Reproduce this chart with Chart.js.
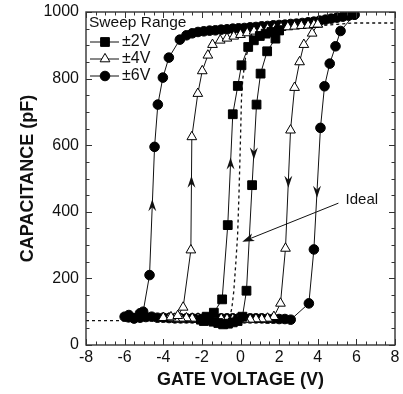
<!DOCTYPE html>
<html><head><meta charset="utf-8">
<script src="https://cdn.jsdelivr.net/npm/chart.js@4.4.1/dist/chart.umd.min.js"></script>
<style>html,body{margin:0;padding:0;background:#fff}#wrap{width:403px;height:394px}</style>
</head><body><div id="wrap"><canvas id="c" width="403" height="394"></canvas></div>
<script>
// ---------- data ----------
const xTicks = [-8, -6, -4, -2, 0, 2, 4, 6, 8];
const yTicks = [0, 200, 400, 600, 800, 1000];
const xTitle = 'GATE VOLTAGE (V)';
const yTitle = 'CAPACITANCE (pF)';
const legendTitle = 'Sweep Range';
const seriesNames = ['\u00B12V', '\u00B14V', '\u00B16V'];

// ±2V sweep (filled squares), loop order
const v2 = [2.0, 1.81, 1.38, 1.04, 0.83, 0.6, 0.31, 0.1, -0.15, -0.4, -0.65, -0.9, -1.15, -1.4, -1.65, -1.9, -2.05, -1.75, -1.38, -0.95, -0.66, -0.4, -0.14, 0.05, 0.4, 0.69, 1.0, 1.3, 1.6, 2.0];
const c2 = [945, 920, 882, 815, 722, 480, 163, 85, 72, 68, 64, 62, 66, 70, 75, 72, 76, 85, 97, 137, 360, 693, 778, 840, 895, 915, 928, 935, 940, 945];

// ±4V sweep (open triangles)
const v4 = [4.0, 3.71, 3.28, 3.06, 2.8, 2.59, 2.33, 2.07, 1.73, 1.4, 1.1, 0.8, 0.5, 0.2, -0.1, -0.4, -0.7, -1.0, -1.3, -1.6, -1.9, -2.2, -2.5, -2.8, -3.1, -3.4, -3.7, -4.0, -3.6, -3.25, -2.97, -2.57, -2.52, -2.21, -1.98, -1.69, -1.45, -1.05, -0.7, -0.35, 0.0, 0.35, 0.7, 1.05, 1.4, 1.75, 2.1, 2.45, 2.8, 3.15, 3.5, 3.8, 4.0];
const c4 = [963, 936, 902, 850, 773, 645, 290, 125, 85, 80, 78, 78, 77, 77, 78, 78, 78, 79, 79, 80, 80, 80, 80, 81, 80, 80, 81, 82, 84, 88, 113, 285, 625, 755, 823, 870, 902, 915, 921, 927, 932, 937, 942, 946, 949, 951, 953, 955, 957, 959, 960, 962, 963];

// ±6V sweep (filled circles)
const v6 = [5.9, 5.18, 4.92, 4.62, 4.35, 4.14, 3.8, 3.54, 2.6, 2.3, 2.0, 1.7, 1.4, 1.1, 0.8, 0.5, 0.2, -0.1, -0.4, -0.7, -1.0, -1.3, -1.6, -1.9, -2.2, -2.5, -2.8, -3.1, -3.4, -3.7, -4.0, -4.3, -4.6, -4.9, -5.2, -5.5, -5.8, -6.0, -5.78, -5.52, -5.21, -5.04, -4.71, -4.45, -4.28, -4.02, -3.71, -3.14, -2.8, -2.5, -2.2, -1.9, -1.6, -1.3, -1.0, -0.7, -0.4, -0.1, 0.2, 0.5, 0.8, 1.1, 1.4, 1.7, 2.0, 2.3, 2.6, 2.9, 3.2, 3.5, 3.8, 4.1, 4.4, 4.7, 5.0, 5.3, 5.6, 5.9];
const c6 = [992, 943, 897, 845, 777, 652, 287, 125, 76, 78, 78, 79, 79, 80, 80, 80, 80, 80, 80, 80, 80, 80, 80, 80, 80, 80, 80, 80, 80, 81, 82, 82, 85, 84, 82, 80, 83, 85, 90, 80, 95, 100, 210, 595, 722, 803, 863, 917, 930, 936, 940, 942, 944, 945, 947, 948, 950, 951, 952, 954, 955, 957, 958, 960, 961, 962, 964, 965, 967, 969, 971, 974, 977, 980, 983, 986, 989, 992];

// ideal C-V curve (dashed)
const idealV = [-8, -0.8, -0.55, -0.45, -0.35, -0.25, -0.15, -0.08, 0.0, 0.05, 0.12, 0.25, 0.5, 1.0, 2.0, 3.0, 4.0, 5.0, 5.8, 8];
const idealC = [73, 73, 85, 110, 160, 240, 330, 450, 620, 740, 800, 860, 905, 930, 945, 952, 958, 963, 967, 967];

// sweep-direction arrows: series index, voltage, capacitance, direction
const arrowSeries = [2, 2, 1, 1, 0, 0];
const arrowV = [-4.58, 3.94, -2.58, 2.37, -0.52, 0.69];
const arrowC = [420, 460, 490, 490, 545, 575];
const arrowDir = ['up', 'down', 'up', 'down', 'up', 'down'];

// "Ideal" annotation
const idealLabel = 'Ideal';
const idealLabelAt = [5.44, 435];
const idealArrowFrom = [5.07, 426];
const idealArrowTo = [0.09, 310];

// ---------- drawing ----------
const FAMILY = '"Liberation Sans", Arial, Helvetica, sans-serif';
const INK = '#111';
const zip = (a, b) => a.map((v, i) => ({x: v, y: b[i]}));

const styles = [
  {pointStyle: 'rect', radius: 6.2, fill: '#000'},
  {pointStyle: 'triangle', radius: 5.6, fill: '#fff'},
  {pointStyle: 'circle', radius: 4.8, fill: '#000'}
];

function arrowHead(ctx, x, y, ang, L, W, N) {
  ctx.save();
  ctx.translate(x, y);
  ctx.rotate(ang);
  ctx.beginPath();
  ctx.moveTo(0, 0);
  ctx.lineTo(-L, -W / 2);
  ctx.lineTo(-L + N, 0);
  ctx.lineTo(-L, W / 2);
  ctx.closePath();
  ctx.fillStyle = INK;
  ctx.fill();
  ctx.restore();
}

const framePlugin = {
  id: 'frame',
  afterDraw(chart) {
    const {ctx, chartArea: a, scales: {x, y}} = chart;
    ctx.save();
    ctx.strokeStyle = '#333';
    ctx.lineWidth = 1.4;
    ctx.strokeRect(a.left, a.top, a.right - a.left, a.bottom - a.top);
    ctx.lineWidth = 1;
    ctx.beginPath();
    for (let v = -8; v <= 8.001; v += 0.5) {
      const px = Math.round(x.getPixelForValue(v)) + 0.5;
      const len = Math.abs(v % 2) < 1e-6 ? 6 : 3.5;
      ctx.moveTo(px, a.bottom); ctx.lineTo(px, a.bottom - len);
      ctx.moveTo(px, a.top); ctx.lineTo(px, a.top + len);
    }
    for (let c = 0; c <= 1000.01; c += 50) {
      const py = Math.round(y.getPixelForValue(c)) + 0.5;
      const len = Math.abs(c % 200) < 1e-6 ? 6 : 3.5;
      ctx.moveTo(a.left, py); ctx.lineTo(a.left + len, py);
      ctx.moveTo(a.right, py); ctx.lineTo(a.right - len, py);
    }
    ctx.stroke();

    // sweep-direction arrows, placed on their curves
    arrowSeries.forEach((si, k) => {
      const meta = chart.getDatasetMeta(si + 1);
      const tx = x.getPixelForValue(arrowV[k]);
      const ty = y.getPixelForValue(arrowC[k]);
      let best = tx, bd = 1e9;
      const pts = meta.data;
      for (let i = 0; i < pts.length - 1; i++) {
        const p = pts[i], q = pts[i + 1];
        if ((p.y - ty) * (q.y - ty) <= 0 && p.y !== q.y) {
          const xi = p.x + (q.x - p.x) * (ty - p.y) / (q.y - p.y);
          if (Math.abs(xi - tx) < bd) { bd = Math.abs(xi - tx); best = xi; }
        }
      }
      const up = arrowDir[k] === 'up';
      arrowHead(ctx, best, up ? ty - 6 : ty + 6, up ? -Math.PI / 2 : Math.PI / 2, 12, 8, 4);
    });

    // Ideal annotation
    const fx = x.getPixelForValue(idealArrowFrom[0]), fy = y.getPixelForValue(idealArrowFrom[1]);
    const ex = x.getPixelForValue(idealArrowTo[0]), ey = y.getPixelForValue(idealArrowTo[1]);
    const ang = Math.atan2(ey - fy, ex - fx);
    ctx.strokeStyle = INK; ctx.lineWidth = 1;
    ctx.beginPath(); ctx.moveTo(fx, fy); ctx.lineTo(ex - Math.cos(ang) * 8, ey - Math.sin(ang) * 8); ctx.stroke();
    arrowHead(ctx, ex, ey, ang, 12, 8, 3);
    ctx.fillStyle = INK;
    ctx.font = '15px ' + FAMILY;
    ctx.textBaseline = 'middle'; ctx.textAlign = 'left';
    ctx.fillText(idealLabel, x.getPixelForValue(idealLabelAt[0]), y.getPixelForValue(idealLabelAt[1]));

    // legend
    const lx = a.left + 3, ltop = a.top + 11;
    ctx.font = '15.5px ' + FAMILY;
    ctx.textBaseline = 'middle';
    ctx.fillText(legendTitle, lx, ltop);
    seriesNames.forEach((name, i) => {
      const yy = ltop + 19 + i * 17;
      ctx.strokeStyle = INK; ctx.lineWidth = 1;
      ctx.beginPath(); ctx.moveTo(lx + 1, yy); ctx.lineTo(lx + 30, yy); ctx.stroke();
      const s = styles[i];
      ctx.fillStyle = s.fill; ctx.strokeStyle = '#000';
      Chart.helpers.drawPoint(ctx, {pointStyle: s.pointStyle, radius: s.radius, rotation: 0, borderWidth: 1}, lx + 16, yy);
      ctx.fillStyle = INK;
      ctx.font = '16px ' + FAMILY;
      ctx.fillText(name, lx + 33, yy);
    });
    ctx.restore();
  }
};

const seriesData = [zip(v2, c2), zip(v4, c4), zip(v6, c6)];
const datasets = [{
  label: 'Ideal', data: zip(idealV, idealC), showLine: true, borderColor: INK,
  borderWidth: 1.3, borderDash: [3, 3], pointRadius: 0, order: 4
}];
seriesNames.forEach((n, i) => {
  datasets.push({
    label: n, data: seriesData[i], showLine: true, borderColor: INK, borderWidth: 1,
    pointStyle: styles[i].pointStyle, pointRadius: styles[i].radius,
    pointBackgroundColor: styles[i].fill, pointBorderColor: '#000', pointBorderWidth: 1,
    order: i + 1
  });
});

new Chart(document.getElementById('c'), {
  type: 'scatter',
  data: {datasets},
  options: {
    responsive: false, animation: false, devicePixelRatio: 1,
    layout: {padding: {top: 12, right: 8, left: 0, bottom: 0}},
    plugins: {legend: {display: false}, tooltip: {enabled: false}},
    scales: {
      x: {
        type: 'linear', min: -8, max: 8,
        afterBuildTicks: s => { s.ticks = xTicks.map(v => ({value: v})); },
        grid: {display: false, drawTicks: false}, border: {display: false},
        ticks: {font: {family: FAMILY, size: 16}, color: INK, padding: 3, maxRotation: 0, autoSkip: false, callback: v => String(v)},
        title: {display: true, text: xTitle, font: {family: FAMILY, size: 18, weight: 'bold'}, color: INK, padding: {top: 0, bottom: 3}},
        afterFit: s => { s.height = 49; s.paddingLeft = 0; s.paddingRight = 0; }
      },
      y: {
        type: 'linear', min: 0, max: 1000,
        afterBuildTicks: s => { s.ticks = yTicks.map(v => ({value: v})); },
        grid: {display: false, drawTicks: false}, border: {display: false},
        ticks: {font: {family: FAMILY, size: 16}, color: INK, padding: 7, autoSkip: false, callback: v => String(v)},
        title: {display: true, text: yTitle, font: {family: FAMILY, size: 18, weight: 'bold'}, color: INK, padding: {top: 17, bottom: 0}},
        afterFit: s => { s.width = 86; s.paddingTop = 0; s.paddingBottom = 0; }
      }
    }
  },
  plugins: [framePlugin]
});
</script>
</body></html>
